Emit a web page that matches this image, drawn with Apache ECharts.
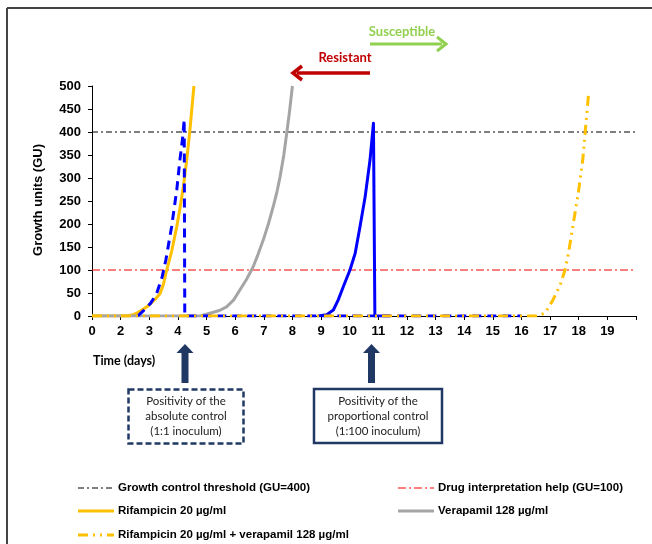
<!DOCTYPE html>
<html><head><meta charset="utf-8">
<script src="https://cdn.jsdelivr.net/npm/echarts@6/dist/echarts.min.js"></script>
<style>html,body{margin:0;padding:0;background:#fff}#c{width:652px;height:544px}</style>
</head><body><div id="c"></div>
<script>
// Tick labels of the x axis (position 0..19)
const xTickLabels = ['0','2','3','4','5','6','7','8','9','10','11','12','13','14','15','16','17','18','19',''];
const yTicks = [0,50,100,150,200,250,300,350,400,450,500];

// Series data: [axis position, growth units]
const rifampicin = [[0,0],[1.2,0],[1.4,2],[1.56,6],[1.92,20],[2.2,36],[2.38,49],[2.5,70],[2.58,93],[2.78,140],[2.96,194],[3.08,237],[3.19,281],[3.31,340],[3.42,404],[3.56,500]];
const verapamil = [[0,0],[3.77,0],[4.12,6],[4.45,12],[4.7,20],[4.95,35],[5.17,57],[5.4,80],[5.63,107],[5.8,134],[5.98,165],[6.16,200],[6.33,238],[6.46,270],[6.57,303],[6.7,350],[6.8,397],[6.9,445],[7.0,500]];
const absoluteControl = [[1.6,0],[1.79,11],[2.05,28],[2.26,49],[2.45,85],[2.58,122],[2.78,194],[2.96,274],[3.07,339],[3.17,390],[3.22,427],[3.24,0],[15.0,0]];
const proportionalControl = [[7.9,0],[8.2,3],[8.43,13],[8.6,35],[8.78,64],[9.01,100],[9.19,136],[9.36,194],[9.54,259],[9.71,339],[9.83,419],[9.88,0],[10.4,0]];
const rifVerapamil = [[0,0],[15.5,0],[15.82,6],[16.1,35],[16.35,67],[16.52,100],[16.64,136],[16.81,201],[16.99,270],[17.14,339],[17.24,411],[17.34,480]];
const growthThreshold = [[0,400],[19,400]];
const drugHelp = [[0,100],[19,100]];

const names = {
  thr: 'Growth control threshold (GU=400)',
  drug: 'Drug interpretation help (GU=100)',
  rif: 'Rifampicin 20 µg/ml',
  ver: 'Verapamil 128 µg/ml',
  rv: 'Rifampicin 20 µg/ml + verapamil 128 µg/ml'
};
const styles = {
  thr: {color: '#000', width: 1, type: [6,3,2,3]},
  drug: {color: '#FF0000', width: 1.1, type: [8,3,2,3]},
  rif: {color: '#FFC000', width: 3, type: 'solid'},
  ver: {color: '#A5A5A5', width: 3, type: 'solid'},
  rv: {color: '#FFC000', width: 3, type: [10,5,2,5,2,5]}
};

const chart = echarts.init(document.getElementById('c'));
const axisFont = {fontFamily: 'Liberation Sans, Arial, sans-serif', fontWeight: 'bold', fontSize: 13, color: '#000'};
const navy = '#1F3864';
function upArrow(x) {
  return {type: 'group', children: [
    {type: 'rect', shape: {x: x - 3.5, y: 352, width: 7, height: 31}, style: {fill: navy}},
    {type: 'polygon', shape: {points: [[x - 8.5, 353], [x, 344], [x + 8.5, 353]]}, style: {fill: navy}}
  ]};
}
function legendItem(key, x, y) {
  const s = styles[key];
  return {type: 'group', children: [
    {type: 'line', shape: {x1: x, y1: y, x2: x + 36, y2: y}, style: {stroke: s.color, lineWidth: s.width, lineDash: Array.isArray(s.type) ? s.type : null}},
    {type: 'text', x: x + 40, y: y, style: {text: names[key], font: 'bold 11.5px "Liberation Sans", Arial, sans-serif', fill: '#000', align: 'left', verticalAlign: 'middle'}}
  ]};
}
const boxFont = '11.5px Lato, "Open Sans", sans-serif';
function lineSeries(name, data, st, z) {
  return {name: name, type: 'line', data: data, symbol: 'none',
    lineStyle: {color: st.color, width: st.width, type: st.type, join: 'round'}, itemStyle: {color: st.color}, z: z};
}

chart.setOption({
  animation: false,
  grid: {left: 92, right: 16, top: 86, bottom: 228, containLabel: false},
  xAxis: {
    type: 'value', min: 0, max: 19, interval: 1,
    axisLine: {lineStyle: {color: '#000', width: 1}},
    axisTick: {show: true, length: 4, lineStyle: {color: '#000'}},
    splitLine: {show: false},
    axisLabel: Object.assign({margin: 9, formatter: v => xTickLabels[Math.round(v)]}, axisFont)
  },
  yAxis: {
    type: 'value', min: 0, max: 500, interval: 50,
    axisLine: {show: true, lineStyle: {color: '#000', width: 1}},
    axisTick: {show: true, length: 4, lineStyle: {color: '#000'}},
    splitLine: {show: false},
    axisLabel: Object.assign({margin: 11, formatter: v => yTicks.includes(v) ? String(v) : ''}, axisFont)
  },
  series: [
    lineSeries(names.thr, growthThreshold, styles.thr, 1),
    lineSeries(names.drug, drugHelp, styles.drug, 1),
    lineSeries(names.rif, rifampicin, styles.rif, 2),
    lineSeries(names.ver, verapamil, styles.ver, 3),
    lineSeries('Absolute control', absoluteControl, {color: '#0000FF', width: 3, type: [9,6]}, 4),
    lineSeries('Proportional control', proportionalControl, {color: '#0000FF', width: 3, type: 'solid'}, 5),
    lineSeries(names.rv, rifVerapamil, styles.rv, 6)
  ],
  graphic: [
    {type: 'line', shape: {x1: 7, y1: 8, x2: 652, y2: 8}, style: {stroke: '#444', lineWidth: 2}},
    {type: 'line', shape: {x1: 7, y1: 8, x2: 7, y2: 544}, style: {stroke: '#444', lineWidth: 2}},
    {type: 'text', x: 38, y: 200, rotation: Math.PI / 2, style: {text: 'Growth units (GU)', font: 'bold 13px "Liberation Sans", Arial, sans-serif', fill: '#000', align: 'center', verticalAlign: 'middle'}},
    {type: 'text', x: 402, y: 32, style: {text: 'Susceptible', font: 'bold 13px Lato, "Open Sans", sans-serif', fill: '#92D050', align: 'center', verticalAlign: 'middle'}},
    {type: 'line', shape: {x1: 370, y1: 44, x2: 442, y2: 44}, style: {stroke: '#92D050', lineWidth: 3}},
    {type: 'polyline', shape: {points: [[437, 37], [446, 44], [437, 51]]}, style: {stroke: '#92D050', lineWidth: 3, fill: null}},
    {type: 'text', x: 345, y: 58, style: {text: 'Resistant', font: 'bold 13px Lato, "Open Sans", sans-serif', fill: '#C00000', align: 'center', verticalAlign: 'middle'}},
    {type: 'line', shape: {x1: 370, y1: 73, x2: 297, y2: 73}, style: {stroke: '#C00000', lineWidth: 3.5}},
    {type: 'polyline', shape: {points: [[302, 66], [293, 73], [302, 80]]}, style: {stroke: '#C00000', lineWidth: 3.5, fill: null}},
    {type: 'text', x: 93, y: 361, style: {text: 'Time (days)', font: 'bold 12.5px Lato, "Open Sans", sans-serif', fill: '#000', align: 'left', verticalAlign: 'middle'}},
    upArrow(185), upArrow(371.5),
    {type: 'rect', shape: {x: 128.5, y: 389.5, width: 115, height: 54}, style: {stroke: navy, lineWidth: 2.5, fill: null, lineDash: [6,3]}},
    {type: 'rect', shape: {x: 314, y: 389, width: 128, height: 54}, style: {stroke: navy, lineWidth: 2.5, fill: null}},
    {type: 'text', x: 186, y: 416.5, style: {text: 'Positivity of the\nabsolute control\n(1:1 inoculum)', font: boxFont, lineHeight: 15, fill: '#222', align: 'center', verticalAlign: 'middle'}},
    {type: 'text', x: 378, y: 416.5, style: {text: 'Positivity of the\nproportional control\n(1:100 inoculum)', font: boxFont, lineHeight: 15, fill: '#222', align: 'center', verticalAlign: 'middle'}},
    legendItem('thr', 78, 488),
    legendItem('drug', 398, 488),
    legendItem('rif', 78, 511),
    legendItem('ver', 398, 511),
    legendItem('rv', 78, 535)
  ]
});
</script></body></html>
